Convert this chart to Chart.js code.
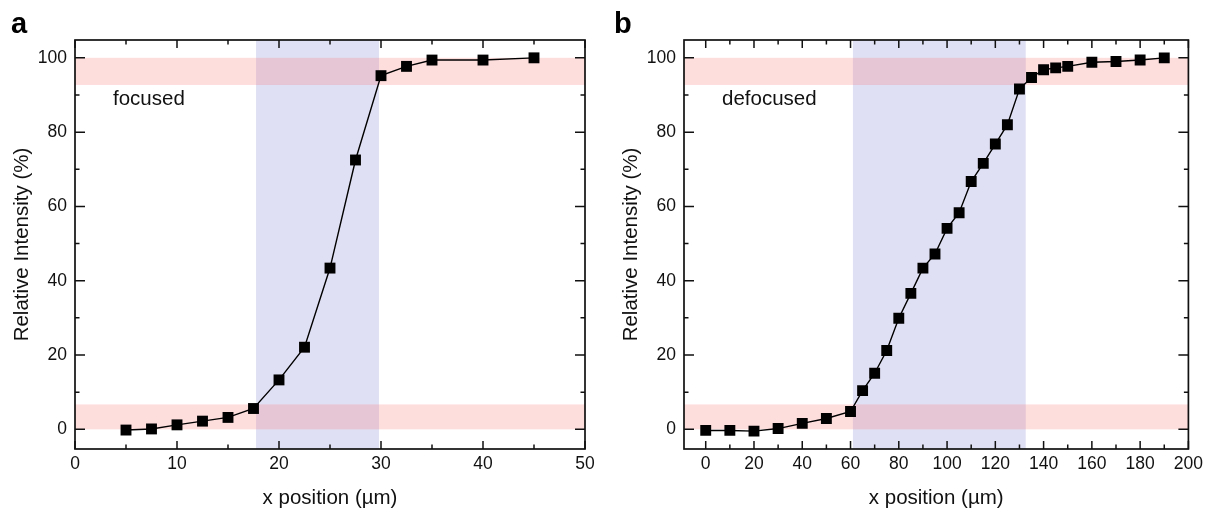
<!DOCTYPE html>
<html>
<head>
<meta charset="utf-8">
<script src="https://cdn.jsdelivr.net/npm/chart.js@4.4.1/dist/chart.umd.min.js"></script>
<style>
  html, body { margin: 0; padding: 0; background: #fff; }
  #wrap { position: relative; width: 1208px; height: 511px; overflow: hidden; }
  canvas { position: absolute; top: 0; }
  #cA { left: 0; }
  #cB { left: 600px; }
  .panel { position: absolute; top: 7px; font: bold 29px 'Liberation Sans', Arial, sans-serif; color: #000; line-height: 33px; }
</style>
</head>
<body>
<div id="wrap">
  <canvas id="cA" width="600" height="511"></canvas>
  <canvas id="cB" width="608" height="511"></canvas>
  <div class="panel" style="left:11px;">a</div>
  <div class="panel" style="left:614px;">b</div>
</div>
<script>
// ---- data ----
const xA = [5, 7.5, 10, 12.5, 15, 17.5, 20, 22.5, 25, 27.5, 30, 32.5, 35, 40, 45];
const yA = [-0.2, 0.1, 1.2, 2.2, 3.2, 5.6, 13.3, 22.1, 43.4, 72.5, 95.2, 97.7, 99.4, 99.4, 100];
const xB = [0, 10, 20, 30, 40, 50, 60, 65, 70, 75, 80, 85, 90, 95, 100, 105, 110, 115, 120, 125, 130, 135, 140, 145, 150, 160, 170, 180, 190];
const yB = [-0.3, -0.3, -0.5, 0.2, 1.6, 2.9, 4.8, 10.4, 15.1, 21.2, 29.9, 36.6, 43.4, 47.2, 54.1, 58.3, 66.7, 71.6, 76.8, 82.0, 91.6, 94.7, 96.8, 97.3, 97.7, 98.8, 99.0, 99.4, 100];
const yTicks = [0, 20, 40, 60, 80, 100];
const xTicksA = [0, 10, 20, 30, 40, 50];
const xTicksB = [0, 20, 40, 60, 80, 100, 120, 140, 160, 180, 200];
const pinkBands = [[0, 6.7], [92.7, 100]];
const blueBandA = [17.75, 29.8];
const blueBandB = [61, 132.6];
const labelA = 'focused';
const labelB = 'defocused';
const xTitle = 'x position (\u00b5m)';
const yTitle = 'Relative Intensity (%)';

const FONT = "'Liberation Sans', Arial, sans-serif";

const decoPlugin = {
  id: 'deco',
  beforeDatasetsDraw(chart, args, opts) {
    const ctx = chart.ctx, ca = chart.chartArea;
    const xs = chart.scales.x, ys = chart.scales.y;
    ctx.save();
    ctx.fillStyle = '#e0e0f4';
    const bx0 = xs.getPixelForValue(opts.blue[0]), bx1 = xs.getPixelForValue(opts.blue[1]);
    ctx.fillRect(bx0, ca.top, bx1 - bx0, ca.bottom - ca.top);
    ctx.fillStyle = 'rgba(250, 100, 100, 0.22)';
    opts.pink.forEach(b => {
      const y0 = ys.getPixelForValue(b[1]), y1 = ys.getPixelForValue(b[0]);
      ctx.fillRect(ca.left, y0, ca.right - ca.left, y1 - y0);
    });
    ctx.restore();
  },
  afterDatasetsDraw(chart, args, opts) {
    const ctx = chart.ctx, ca = chart.chartArea;
    const xs = chart.scales.x, ys = chart.scales.y;
    ctx.save();
    ctx.strokeStyle = '#111';
    ctx.lineWidth = 1.7;
    ctx.strokeRect(ca.left, ca.top, ca.right - ca.left, ca.bottom - ca.top);
    ctx.lineWidth = 1.5;
    const majL = 8, minL = 4.5;
    function mids(vals) {
      const m = [];
      for (let i = 0; i < vals.length - 1; i++) m.push((vals[i] + vals[i + 1]) / 2);
      return m;
    }
    const xv = xs.ticks.map(t => t.value), yv = ys.ticks.map(t => t.value);
    ctx.beginPath();
    [[xv, majL], [mids(xv), minL]].forEach(([vals, L]) => {
      vals.forEach(v => {
        const p = xs.getPixelForValue(v);
        if (p < ca.left - 0.5 || p > ca.right + 0.5) return;
        ctx.moveTo(p, ca.bottom); ctx.lineTo(p, ca.bottom - L);
        ctx.moveTo(p, ca.top); ctx.lineTo(p, ca.top + L);
      });
    });
    [[yv, majL + 2], [mids(yv), minL]].forEach(([vals, L]) => {
      vals.forEach(v => {
        const p = ys.getPixelForValue(v);
        if (p < ca.top - 0.5 || p > ca.bottom + 0.5) return;
        ctx.moveTo(ca.left, p); ctx.lineTo(ca.left + L, p);
        ctx.moveTo(ca.right, p); ctx.lineTo(ca.right - L, p);
      });
    });
    ctx.stroke();
    ctx.fillStyle = '#111';
    ctx.font = '20.5px ' + FONT;
    ctx.textBaseline = 'alphabetic';
    ctx.textAlign = 'left';
    ctx.fillText(opts.label, ca.left + 38, 105);
    ctx.restore();
  }
};

function makeChart(id, xv, yv, xmin, xmax, xticks, blue, label, yW, rightPad, yTitlePad) {
  return new Chart(document.getElementById(id), {
    type: 'scatter',
    data: {
      datasets: [{
        data: xv.map((x, i) => ({ x: x, y: yv[i] })),
        showLine: true,
        borderColor: '#000',
        borderWidth: 1.4,
        backgroundColor: '#000',
        pointStyle: 'rect',
        pointRadius: 7.7,
        pointHoverRadius: 7.7,
        pointBorderWidth: 0,
        tension: 0
      }]
    },
    options: {
      responsive: false,
      animation: false,
      devicePixelRatio: 1,
      layout: { padding: { top: 40, right: rightPad, left: 0, bottom: 0 } },
      plugins: {
        legend: { display: false },
        tooltip: { enabled: false },
        deco: { blue: blue, pink: pinkBands, label: label }
      },
      scales: {
        x: {
          type: 'linear', min: xmin, max: xmax,
          afterBuildTicks: s => { s.ticks = xticks.map(v => ({ value: v })); },
          afterFit: s => { s.height = 62; },
          grid: { display: false, drawTicks: false },
          border: { display: false },
          ticks: { color: '#111', padding: 5, font: { family: FONT, size: 17.5 }, maxRotation: 0, autoSkip: false },
          title: { display: true, text: xTitle, color: '#111', font: { family: FONT, size: 20.5, lineHeight: 1.2 }, padding: { top: 0, bottom: 0 } }
        },
        y: {
          type: 'linear', min: -5.3, max: 104.8,
          afterBuildTicks: s => { s.ticks = yTicks.map(v => ({ value: v })); },
          afterFit: s => { s.width = yW; },
          grid: { display: false, drawTicks: false },
          border: { display: false },
          ticks: { color: '#111', padding: 8, font: { family: FONT, size: 17.5 }, autoSkip: false },
          title: { display: true, text: yTitle, color: '#111', font: { family: FONT, size: 20.5, lineHeight: 1.2 }, padding: { top: yTitlePad, bottom: 0 } }
        }
      }
    },
    plugins: [decoPlugin]
  });
}

makeChart('cA', xA, yA, 0, 50, xTicksA, blueBandA, labelA, 75, 15, 10.5);
makeChart('cB', xB, yB, -9, 200, xTicksB, blueBandB, labelB, 84, 16, 19);
</script>
</body>
</html>
